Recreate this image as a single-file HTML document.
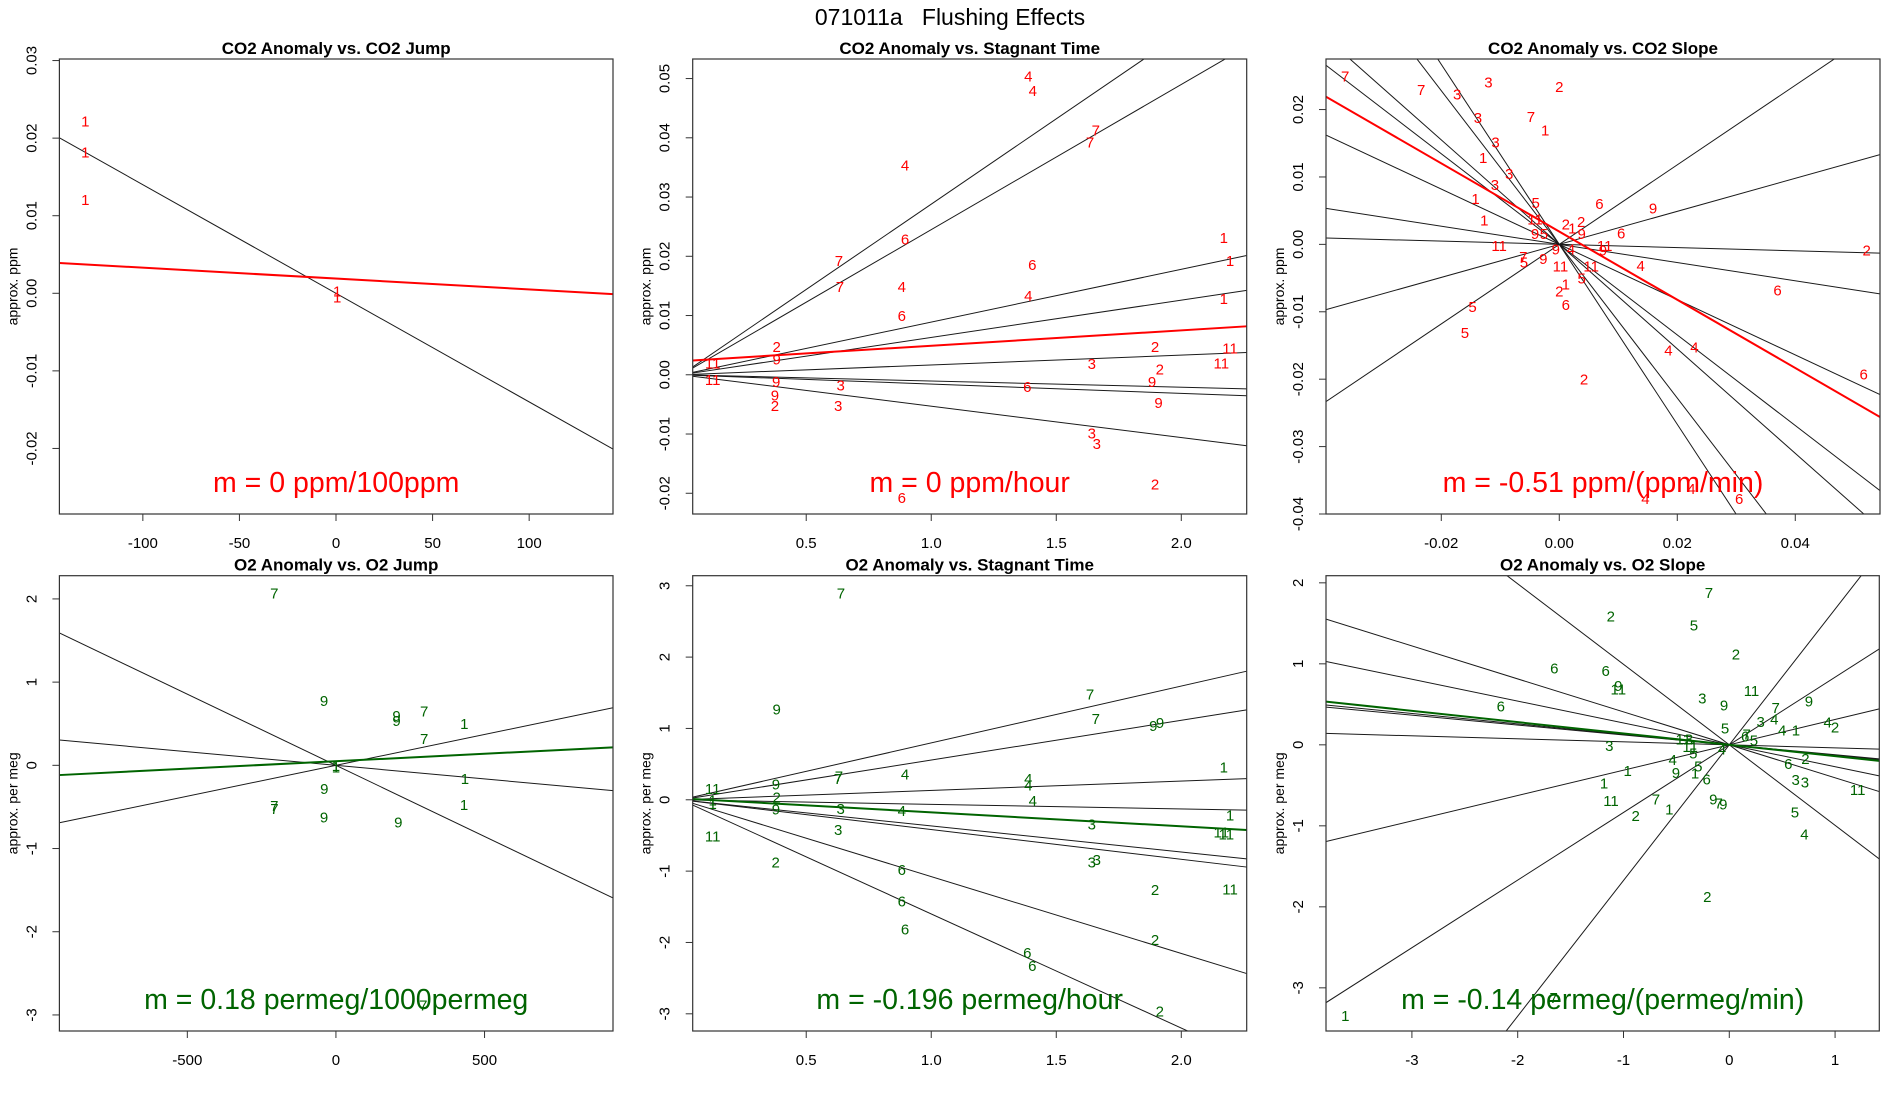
<!DOCTYPE html>
<html><head><meta charset="utf-8"><title>071011a Flushing Effects</title>
<style>
html,body{margin:0;padding:0;background:#fff;overflow:hidden;width:1900px;height:1100px;}
svg{display:block;font-family:"Liberation Sans",Arial,sans-serif;}
</style></head>
<body>
<svg id="fig" width="1900" height="1100" viewBox="0 0 1900 1100" xmlns="http://www.w3.org/2000/svg">
<rect x="0" y="0" width="1900" height="1100" fill="#fff"/>
<text x="950" y="25" text-anchor="middle" font-size="23" fill="#000">071011a&#160;&#160;&#160;Flushing Effects</text>
</svg>
<script>
// ---- Panel 1: CO2 Anomaly vs CO2 Jump ----
const p1Labels = ["1","1","1","1","1"];
const p1X = [-129.8,-129.8,-129.8,0.6,0.6];
const p1Y = [0.0222,0.0182,0.0121,0.0003,-0.0005];
const p1Slopes = [-0.00014];
const p1Fit = [0.0019,-0.000014];
const p1XTicks = [-100,-50,0,50,100];
const p1YTicks = [-0.02,-0.01,0,0.01,0.02,0.03];

// ---- Panel 2: CO2 Anomaly vs Stagnant Time ----
const p2Labels = ["4","4","7","7","4","6","7","7","6","4","4","6","2","9","11","11","9","9","2","3","3","2","3","2","9","9","6","3","3","2","6","1","1","1","11","11"];
const p2X = [1.388,1.406,1.658,1.635,0.895,0.895,0.631,0.635,1.404,0.882,1.388,0.882,0.382,0.382,0.126,0.126,0.38,0.375,0.375,0.638,0.628,1.895,1.642,1.914,1.883,1.909,1.384,1.642,1.662,1.895,0.882,2.17,2.195,2.17,2.195,2.16];
const p2Y = [0.0504,0.048,0.0413,0.0393,0.0354,0.0229,0.0193,0.0149,0.0186,0.0149,0.0134,0.0100,0.0048,0.0027,0.0020,-0.0008,-0.0011,-0.0034,-0.0052,-0.0017,-0.0052,0.0048,0.0019,0.0010,-0.0011,-0.0047,-0.0020,-0.0098,-0.0116,-0.0184,-0.0207,0.0232,0.0193,0.0129,0.0045,0.0020];
const p2Slopes = [0.0288,0.0245,0.0089,0.0063,0.00166,-0.00105,-0.00157,-0.0053];
const p2Fit = [0.0023,0.0026];
const p2XTicks = [0.5,1.0,1.5,2.0];
const p2YTicks = [-0.02,-0.01,0,0.01,0.02,0.03,0.04,0.05];

// ---- Panel 3: CO2 Anomaly vs CO2 Slope ----
const p3Labels = ["7","7","3","3","2","3","7","1","3","1","3","3","1","5","6","9","1","11","2","2","1","9","5","9","6","11","9","4","11","9","7","5","9","11","11","4","5","1","2","6","5","5","6","4","4","2","4","4","6","2","6"];
const p3X = [-0.0363,-0.0234,-0.0120,-0.0173,0.0,-0.0138,-0.0048,-0.0024,-0.0108,-0.0129,-0.0085,-0.0109,-0.0142,-0.0040,0.0068,0.0159,-0.0127,-0.0041,0.0011,0.0037,0.0022,-0.0041,-0.0026,0.0038,0.0105,-0.0102,-0.0006,0.0020,0.0077,0.0074,-0.0061,-0.0060,-0.0027,0.0002,0.0054,0.0138,0.0038,0.0011,0.0,0.0011,-0.0147,-0.0160,0.0370,0.0185,0.0229,0.0042,0.0224,0.0146,0.0305,0.0521,0.0516];
const p3Y = [0.0250,0.0230,0.0241,0.0223,0.0234,0.0188,0.0190,0.0170,0.0152,0.0129,0.0105,0.0089,0.0068,0.0062,0.0061,0.0054,0.0036,0.0038,0.0030,0.0034,0.0024,0.0016,0.0016,0.0016,0.0017,-0.0002,-0.0007,-0.0007,-0.0002,-0.0008,-0.0018,-0.0026,-0.0021,-0.0032,-0.0032,-0.0031,-0.0050,-0.0059,-0.0069,-0.0089,-0.0092,-0.0131,-0.0068,-0.0157,-0.0152,-0.0200,-0.0362,-0.0377,-0.0377,-0.0008,-0.0192];
const p3Slopes = [-1.335,-1.14,-0.775,-0.672,-0.41,-0.135,-0.024,0.245,0.59];
const p3Fit = [0.0019,-0.506];
const p3XTicks = [-0.02,0.0,0.02,0.04];
const p3YTicks = [-0.04,-0.03,-0.02,-0.01,0,0.01,0.02];

// ---- Panel 4: O2 Anomaly vs O2 Jump ----
const p4Labels = ["7","9","9","9","7","1","7","1","1","1","9","7","7","1","9","9","7"];
const p4X = [-207.5,-40,204,204,297,432,297,0,0,434,-39,-207.5,-207,431,-40,210,294];
const p4Y = [2.07,0.78,0.60,0.54,0.65,0.50,0.32,0.0,-0.02,-0.16,-0.28,-0.48,-0.52,-0.47,-0.62,-0.68,-2.88];
const p4Slopes = [-0.00171,-0.000327,0.000742];
const p4Fit = [0.0495,0.000179];
const p4XTicks = [-500,0,500];
const p4YTicks = [-3,-2,-1,0,1,2];

// ---- Panel 5: O2 Anomaly vs Stagnant Time ----
const p5Labels = ["7","9","7","7","9","9","11","9","7","7","4","4","4","2","1","1","9","3","4","4","3","3","11","3","3","2","6","2","6","6","2","6","6","2","1","1","11","11","11"];
const p5X = [0.639,0.382,1.635,1.658,1.888,1.915,0.126,0.379,0.631,0.627,0.895,1.388,1.388,0.382,0.126,0.126,0.379,0.638,0.882,1.406,1.642,0.628,0.126,1.642,1.662,0.378,0.882,1.895,0.882,0.895,1.895,1.384,1.404,1.914,2.17,2.195,2.16,2.18,2.195];
const p5Y = [2.90,1.27,1.48,1.14,1.04,1.08,0.16,0.22,0.33,0.30,0.36,0.30,0.21,0.04,0.0,-0.05,-0.13,-0.12,-0.15,-0.01,-0.34,-0.42,-0.51,-0.87,-0.84,-0.87,-0.98,-1.26,-1.42,-1.81,-1.96,-2.14,-2.32,-2.96,0.46,-0.21,-0.45,-0.48,-1.25];
const p5Slopes = [0.797,0.557,0.131,-0.064,-0.366,-0.417,-1.077,-1.60];
const p5Fit = [0.02,-0.196];
const p5XTicks = [0.5,1.0,1.5,2.0];
const p5YTicks = [-3,-2,-1,0,1,2,3];

// ---- Panel 6: O2 Anomaly vs O2 Slope ----
const p6Labels = ["7","2","5","2","6","6","9","11","11","3","9","6","9","7","3","4","4","2","5","4","1","7","6","5","11","3","3","11","5","4","4","2","6","5","1","9","1","6","3","3","1","11","11","9","7","9","7","1","2","5","4","2","7","1"];
const p6X = [-0.192,-1.12,-0.334,0.063,-1.654,-1.168,-1.049,-1.049,0.21,-0.255,-0.05,-2.16,0.753,0.438,0.297,0.425,0.93,1.0,-0.04,0.50,0.63,0.164,0.15,0.233,-0.435,-0.38,-1.134,-0.37,-0.34,-0.07,-0.535,0.72,0.558,-0.293,-0.96,-0.504,-0.324,-0.214,0.627,0.715,-1.184,1.214,-1.118,-0.151,-0.1,-0.057,-0.693,-0.567,-0.885,0.62,0.71,-0.208,-1.66,-3.63];
const p6Y = [1.88,1.59,1.48,1.12,0.95,0.92,0.73,0.69,0.67,0.58,0.49,0.48,0.54,0.46,0.29,0.32,0.28,0.22,0.21,0.185,0.185,0.136,0.11,0.06,0.074,0.074,-0.01,-0.02,-0.10,-0.05,-0.18,-0.17,-0.23,-0.26,-0.32,-0.34,-0.35,-0.42,-0.43,-0.46,-0.47,-0.55,-0.69,-0.67,-0.72,-0.73,-0.67,-0.79,-0.87,-0.83,-1.10,-1.87,-3.12,-3.34];
const p6Slopes = [-0.994,-0.407,-0.27,-0.129,-0.122,-0.037,0.313,0.835,1.675];
const p6Fit = [0,-0.14];
const p6XTicks = [-3,-2,-1,0,1];
const p6YTicks = [-3,-2,-1,0,1,2];

const svg = document.getElementById('fig');
const NS = 'http://www.w3.org/2000/svg';
function mk(tag, attrs, parent){
  const e = document.createElementNS(NS, tag);
  for (const k in attrs) e.setAttribute(k, attrs[k]);
  (parent||svg).appendChild(e);
  return e;
}
function fmt(v, dec){ return v.toFixed(dec).replace('-0.00','0.00'); }

const RED = '#ff0000', GREEN = '#006400';
const panels = [
  {id:'co2-jump', title:'CO2 Anomaly vs. CO2 Jump', L:59.4,R:613,T:59,B:514, x0:-143.2,x1:143.4, y0:-0.02845,y1:0.0302,
   labels:p1Labels,xs:p1X,ys:p1Y,slopes:p1Slopes,fit:p1Fit,xt:p1XTicks,yt:p1YTicks,xd:0,yd:2,col:RED,ylab:'approx. ppm',m:'m = 0 ppm/100ppm'},
  {id:'co2-stagnant', title:'CO2 Anomaly vs. Stagnant Time', L:692.7,R:1246.7,T:59,B:514, x0:0.0460,x1:2.2616, y0:-0.0235,y1:0.0533,
   labels:p2Labels,xs:p2X,ys:p2Y,slopes:p2Slopes,fit:p2Fit,xt:p2XTicks,yt:p2YTicks,xd:1,yd:2,col:RED,ylab:'approx. ppm',m:'m = 0 ppm/hour'},
  {id:'co2-slope', title:'CO2 Anomaly vs. CO2 Slope', L:1326,R:1880,T:59,B:514, x0:-0.03954,x1:0.05436, y0:-0.0400,y1:0.0275,
   labels:p3Labels,xs:p3X,ys:p3Y,slopes:p3Slopes,fit:p3Fit,xt:p3XTicks,yt:p3YTicks,xd:2,yd:2,col:RED,ylab:'approx. ppm',m:'m = -0.51 ppm/(ppm/min)'},
  {id:'o2-jump', title:'O2 Anomaly vs. O2 Jump', L:59.4,R:613,T:575.7,B:1031, x0:-930.4,x1:932.2, y0:-3.193,y1:2.279,
   labels:p4Labels,xs:p4X,ys:p4Y,slopes:p4Slopes,fit:p4Fit,xt:p4XTicks,yt:p4YTicks,xd:0,yd:0,col:GREEN,ylab:'approx. per meg',m:'m = 0.18 permeg/1000permeg'},
  {id:'o2-stagnant', title:'O2 Anomaly vs. Stagnant Time', L:692.7,R:1246.7,T:575.7,B:1031, x0:0.0460,x1:2.2616, y0:-3.241,y1:3.141,
   labels:p5Labels,xs:p5X,ys:p5Y,slopes:p5Slopes,fit:p5Fit,xt:p5XTicks,yt:p5YTicks,xd:1,yd:0,col:GREEN,ylab:'approx. per meg',m:'m = -0.196 permeg/hour'},
  {id:'o2-slope', title:'O2 Anomaly vs. O2 Slope', L:1326,R:1879.3,T:575.7,B:1031, x0:-3.812,x1:1.418, y0:-3.533,y1:2.088,
   labels:p6Labels,xs:p6X,ys:p6Y,slopes:p6Slopes,fit:p6Fit,xt:p6XTicks,yt:p6YTicks,xd:0,yd:0,col:GREEN,ylab:'approx. per meg',m:'m = -0.14 permeg/(permeg/min)'}
];

panels.forEach((p, pi) => {
  const sx = v => p.L + (v - p.x0) / (p.x1 - p.x0) * (p.R - p.L);
  const sy = v => p.B - (v - p.y0) / (p.y1 - p.y0) * (p.B - p.T);
  const g = mk('g', {});
  
  
  const cp = mk('clipPath', {id:'clip'+pi}, g);
  mk('rect', {x:p.L, y:p.T, width:p.R-p.L, height:p.B-p.T}, cp);

  const t = mk('text', {x:(p.L+p.R)/2, y:p.T-5, 'text-anchor':'middle', 'font-size':17, 'font-weight':'bold', fill:'#000'}, g);
  t.textContent = p.title;
  
  

  const lg = mk('g', {'clip-path':'url(#clip'+pi+')'}, g);
  
  
  p.slopes.forEach(s => {
    const l = mk('line', {x1:sx(p.x0), y1:sy(s*p.x0), x2:sx(p.x1), y2:sy(s*p.x1), stroke:'#1a1a1a', 'stroke-width':1}, lg);
    
    
  });
  const fl = mk('line', {x1:sx(p.x0), y1:sy(p.fit[0]+p.fit[1]*p.x0), x2:sx(p.x1), y2:sy(p.fit[0]+p.fit[1]*p.x1), stroke:p.col, 'stroke-width':2}, lg);
  
  

  const pg = mk('g', {'clip-path':'url(#clip'+pi+')'}, g);
  p.labels.forEach((lab, i) => {
    const tx = mk('text', {x:sx(p.xs[i]), y:sy(p.ys[i])+5.5, 'text-anchor':'middle', 'font-size':15, fill:p.col}, pg);
    tx.textContent = lab;
    
    
  });

  const mt = mk('text', {x:(p.L+p.R)/2, y:p.B-22, 'text-anchor':'middle', 'font-size':28.5, fill:p.col}, g);
  mt.textContent = p.m;
  
  

  const bx = mk('rect', {x:p.L, y:p.T, width:p.R-p.L, height:p.B-p.T, fill:'none', stroke:'#333', 'stroke-width':1.2}, g);
  
  

  p.xt.forEach(v => {
    const X = sx(v);
    const tk = mk('line', {x1:X, y1:p.B, x2:X, y2:p.B+7, stroke:'#333', 'stroke-width':1}, g);
    
    
    const tl = mk('text', {x:X, y:p.B+34, 'text-anchor':'middle', 'font-size':15, fill:'#000'}, g);
    tl.textContent = fmt(v, p.xd);
    
    
  });
  p.yt.forEach(v => {
    const Y = sy(v);
    const tk = mk('line', {x1:p.L-7, y1:Y, x2:p.L, y2:Y, stroke:'#333', 'stroke-width':1}, g);
    
    
    const X = p.L - 23;
    const tl = mk('text', {x:X, y:Y, 'text-anchor':'middle', 'font-size':15, fill:'#000', transform:'rotate(-90 '+X+' '+Y+')'}, g);
    tl.textContent = fmt(v, p.yd);
    
    
  });
  const YL = (p.T+p.B)/2, XL = p.L - 42;
  const yl = mk('text', {x:XL, y:YL, 'text-anchor':'middle', 'font-size':14, fill:'#000', transform:'rotate(-90 '+XL+' '+YL+')'}, g);
  yl.textContent = p.ylab;
  
  
});
</script>
</body></html>
